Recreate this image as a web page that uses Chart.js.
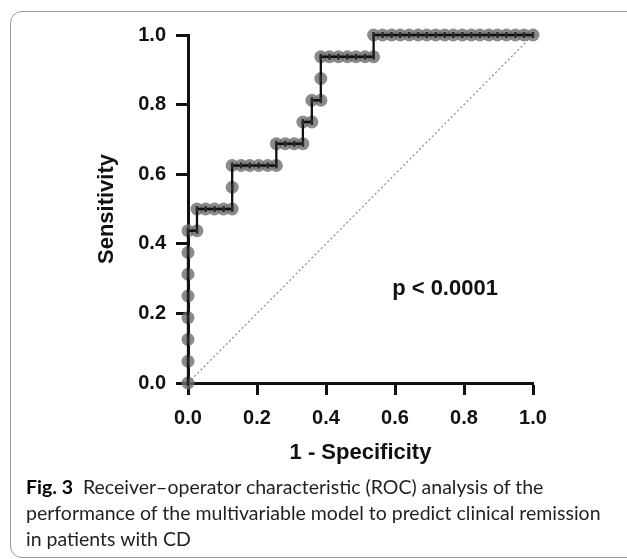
<!DOCTYPE html>
<html>
<head>
<meta charset="utf-8">
<title>ROC</title>
<script src="https://cdn.jsdelivr.net/npm/chart.js@4.4.0/dist/chart.umd.min.js"></script>
<style>
    html, body {
        margin: 0;
        padding: 0;
        width: 627px;
        height: 559px;
        overflow: hidden;
        background: #ffffff;
    }
    #frame {
        position: absolute;
        left: 10px;
        top: 11px;
        width: 680px;
        height: 547px;
        border: 1.5px solid #9a9a9a;
        border-radius: 12px;
        box-sizing: border-box;
    }
    #wrap {
        position: absolute;
        left: 0;
        top: 0;
        width: 627px;
        height: 480px;
    }
    #caption {
        position: absolute;
        left: 26px;
        top: 474px;
        font-family: Lato, "Open Sans", sans-serif;
        font-size: 19.5px;
        line-height: 26px;
        color: #231f20;
        white-space: nowrap;
    }
    #caption b {
        color: #000000;
    }
</style>
</head>
<body>

<div id="frame"></div>

<div id="wrap">
    <canvas id="rocChart" width="627" height="480"></canvas>
</div>

<div id="caption"><b>Fig. 3</b>&nbsp; Receiver–operator characteristic (ROC) analysis of the<br>performance of the multivariable model to predict clinical remission<br>in patients with CD</div>

<script>

/* ==========================================================
   DATA
========================================================== */

// 1 - Specificity
const rocX = [
    0, 0, 0, 0, 0, 0, 0, 0,
    0.026, 0.026, 0.051, 0.077, 0.103, 0.128,
    0.128, 0.128, 0.154, 0.179, 0.205, 0.231, 0.256,
    0.256, 0.282, 0.308, 0.333,
    0.333, 0.359,
    0.359, 0.385,
    0.385, 0.385, 0.410, 0.436, 0.462, 0.487, 0.513, 0.538,
    0.538, 0.564, 0.590, 0.615, 0.641, 0.667, 0.692, 0.718, 0.744,
    0.769, 0.795, 0.821, 0.846, 0.872, 0.897, 0.923, 0.949, 0.974, 1.000
];

// Sensitivity
const rocY = [
    0, 0.0625, 0.125, 0.1875, 0.25, 0.3125, 0.375, 0.4375,
    0.4375, 0.5, 0.5, 0.5, 0.5, 0.5,
    0.5625, 0.625, 0.625, 0.625, 0.625, 0.625, 0.625,
    0.6875, 0.6875, 0.6875, 0.6875,
    0.75, 0.75,
    0.8125, 0.8125,
    0.875, 0.9375, 0.9375, 0.9375, 0.9375, 0.9375, 0.9375, 0.9375,
    1, 1, 1, 1, 1, 1, 1, 1, 1,
    1, 1, 1, 1, 1, 1, 1, 1, 1, 1
];

// reference line
const chanceX = [0, 1];
const chanceY = [0, 1];

const xTitle = "1 - Specificity";
const yTitle = "Sensitivity";
const pValueText = "p < 0.0001";

const toPoints = (xs, ys) => xs.map((x, i) => ({ x: x, y: ys[i] }));

/* ==========================================================
   P VALUE LABEL
========================================================== */

const pValueLabel = {

    id: "pValueLabel",

    afterDatasetsDraw(chart) {

        const { ctx, scales } = chart;

        ctx.save();
        ctx.font = "bold 22px 'Liberation Sans', Arial, sans-serif";
        ctx.fillStyle = "#111111";
        ctx.textAlign = "center";
        ctx.textBaseline = "middle";
        ctx.fillText(
            pValueText,
            scales.x.getPixelForValue(0.745),
            scales.y.getPixelForValue(0.27)
        );
        ctx.restore();

    }

};

/* ==========================================================
   CHART
========================================================== */

const axisFont = {
    family: "'Liberation Sans', Arial, sans-serif",
    weight: "bold",
    size: 20
};

const titleFont = {
    family: "'Liberation Sans', Arial, sans-serif",
    weight: "bold",
    size: 22
};

const ctx = document
    .getElementById("rocChart")
    .getContext("2d");

new Chart(ctx, {

    type: "scatter",

    data: {

        datasets: [

            {
                label: "line",
                data: toPoints(rocX, rocY),
                showLine: true,
                borderColor: "#111111",
                borderWidth: 2.3,
                pointStyle: "line",
                pointRotation: 90,
                pointRadius: 3,
                pointBorderColor: "#2a2a2a",
                pointBorderWidth: 2.5,
                clip: false,
                order: 1
            },

            {
                label: "points",
                data: toPoints(rocX, rocY),
                showLine: false,
                pointRadius: 6.5,
                pointBackgroundColor: "rgba(110,110,110,0.8)",
                pointBorderWidth: 0,
                clip: false,
                order: 2
            },

            {
                label: "chance",
                data: toPoints(chanceX, chanceY),
                showLine: true,
                borderColor: "#8a8a8a",
                borderWidth: 1.2,
                borderDash: [2, 2.5],
                pointRadius: 0,
                clip: false,
                order: 3
            }

        ]

    },

    options: {

        responsive: false,
        animation: false,
        events: [],

        layout: {
            padding: { left: 0, right: 94, top: 35, bottom: 0 }
        },

        plugins: {
            legend: { display: false },
            tooltip: { enabled: false }
        },

        scales: {

            x: {
                type: "linear",
                min: 0,
                max: 1,
                afterFit(scale) {
                    scale.height = 97;
                },
                ticks: {
                    stepSize: 0.2,
                    padding: 11,
                    color: "#111111",
                    font: axisFont,
                    callback: v => v.toFixed(1)
                },
                grid: {
                    drawOnChartArea: false,
                    drawTicks: true,
                    tickLength: 12,
                    tickWidth: 3,
                    tickColor: "#111111"
                },
                border: {
                    display: true,
                    width: 3,
                    color: "#111111"
                },
                title: {
                    display: true,
                    text: xTitle,
                    color: "#111111",
                    font: titleFont,
                    padding: { top: 0, bottom: 14 }
                }
            },

            y: {
                type: "linear",
                min: 0,
                max: 1,
                afterFit(scale) {
                    scale.width = 188;
                },
                ticks: {
                    stepSize: 0.2,
                    padding: 10,
                    color: "#111111",
                    font: axisFont,
                    callback: v => v.toFixed(1)
                },
                grid: {
                    drawOnChartArea: false,
                    drawTicks: true,
                    tickLength: 12,
                    tickWidth: 3,
                    tickColor: "#111111"
                },
                border: {
                    display: true,
                    width: 3,
                    color: "#111111"
                },
                title: {
                    display: true,
                    text: yTitle,
                    color: "#111111",
                    font: titleFont,
                    padding: { top: 94, bottom: 0 }
                }
            }

        }

    },

    plugins: [pValueLabel]

});

</script>
</body>
</html>
